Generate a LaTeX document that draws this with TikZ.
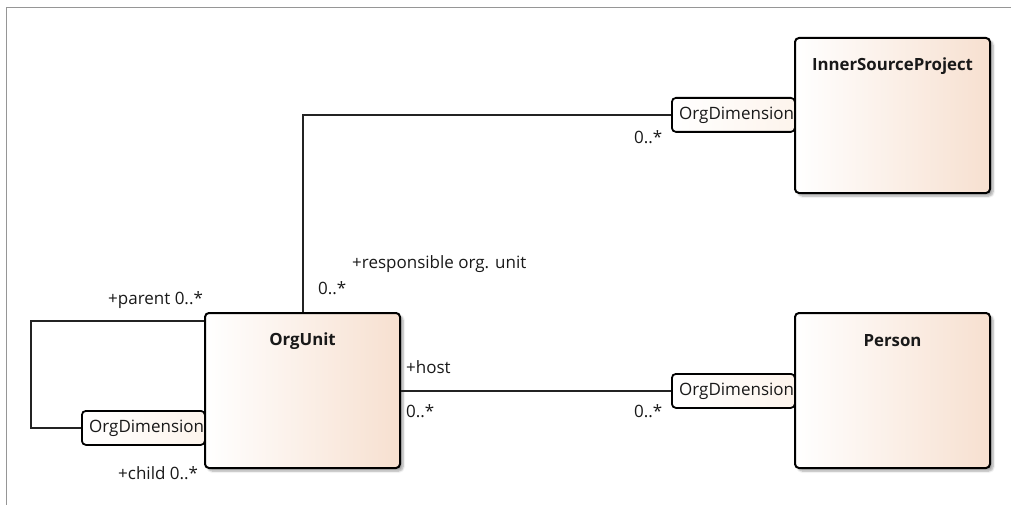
\documentclass[tikz,border=0pt]{standalone}
\usepackage{fontspec}
\setmainfont{Open Sans}
\usetikzlibrary{shadows.blur}
\definecolor{peach}{RGB}{247,224,208}
\definecolor{cream}{RGB}{253,244,236}
\definecolor{wire}{RGB}{35,35,35}
\definecolor{framegray}{RGB}{150,150,150}
\tikzset{
  cls/.style={draw=black, line width=2pt, rounded corners=4pt,
    left color=white, right color=peach, anchor=north west, inner sep=0pt,
    minimum width=195pt, minimum height=155pt,
    blur shadow={shadow xshift=3pt, shadow yshift=-3pt, shadow blur steps=6, shadow opacity=35}},
  qual/.style={draw=black, line width=1.8pt, rounded corners=4pt,
    left color=white, right color=cream, anchor=north west, inner sep=0pt,
    minimum width=123pt, minimum height=34pt},
  title/.style={font=\fontsize{16.8}{19}\selectfont\bfseries, text=black!90},
  qtext/.style={font=\fontsize{17}{19}\selectfont, text=black!90, anchor=west, inner sep=0pt},
  lbl/.style={font=\fontsize{17}{19}\selectfont, text=black!90, anchor=west, inner sep=0pt},
  conn/.style={draw=wire, line width=2pt},
}
\begin{document}
\begin{tikzpicture}[x=1pt,y=-1pt]
\useasboundingbox (0,0) rectangle (1011,505);
% diagram frame (only top and left borders visible)
\draw[framegray, line width=0.8pt] (6,505) -- (6,7) -- (1011,7);

% qualifiers
\node[qual] (q1) at (671,97) {};
\node[qtext] (q1t) at ([xshift=8pt]q1.west) {OrgDimension};
\node[qual] (q2) at (671,373) {};
\node[qtext] (q2t) at ([xshift=8pt]q2.west) {OrgDimension};
\node[qual] (q3) at (81,410) {};
\node[qtext] (q3t) at ([xshift=8pt]q3.west) {OrgDimension};

% connectors
\coordinate (lp) at (31,321);
\draw[conn] (q3.west) -| (lp) -- (lp -| 204,0);
\node[cls] (ou) at (204,312) {};
\node[title] (out) at ([yshift=-29pt]ou.north) {OrgUnit};
\draw[conn] (ou.north) |- (q1.west);
\draw[conn] (ou.east |- q2.west) -- (q2.west);

% classes
\node[cls] (isp) at (794,37) {};
\node[title] (ispt) at ([yshift=-29pt]isp.north) {InnerSourceProject};
\node[cls] (per) at (794,312) {};
\node[title] (pert) at ([yshift=-29pt]per.north) {Person};

% role and multiplicity labels
\node[lbl] (l1) at (352,264) {+responsible org. unit};
\node[lbl] (l2) at (318,288) {0..*};
\node[lbl] (l3) at (634,137) {0..*};
\node[lbl] (l4) at (108,300) {+parent 0..*};
\node[lbl] (l5) at (118,473) {+child 0..*};
\node[lbl] (l6) at (406,367) {+host};
\node[lbl] (l7) at (406,411) {0..*};
\node[lbl] (l8) at (634,411) {0..*};
\end{tikzpicture}
\end{document}
